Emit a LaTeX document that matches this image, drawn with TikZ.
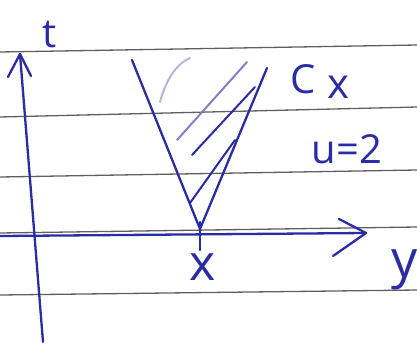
\documentclass[tikz,border=0pt]{standalone}
\usepackage{fontspec}
\setmainfont{Open Sans}
\definecolor{ink}{RGB}{42,44,165}
\definecolor{ruleline}{RGB}{95,95,95}
\begin{document}
\begin{tikzpicture}[x=1pt,y=-1pt,
  inkline/.style={draw=ink,line width=2.3pt,line cap=round,line join=round},
  hatch/.style={draw=ink,line width=2pt,line cap=round},
  paperline/.style={draw=ruleline,line width=1.3pt},
  lbl/.style={text=ink,inner sep=0pt,font=\fontsize{40}{40}\selectfont}]
\useasboundingbox (0,0) rectangle (417,345);
% ruled paper lines
\draw[paperline] (0,52) -- (417,45);
\draw[paperline] (0,117) -- (417,107);
\draw[paperline] (0,177) -- (417,170);
\draw[paperline] (0,233) -- (417,227);
\draw[paperline] (0,295) -- (417,290);
% axes
\coordinate (tbot) at (43,342);
\coordinate (ttop) at (20,54);
\coordinate (yleft) at (0,236);
\coordinate (ytip) at (366,233);
\draw[inkline] (tbot) -- (ttop);
\draw[inkline] ([shift={(-12,23)}]ttop) -- (ttop) -- ([shift={(11,22)}]ttop);
\draw[inkline] (yleft) -- (ytip);
\draw[inkline] ([shift={(-27,-14)}]ytip) -- (ytip) -- ([shift={(-33,23)}]ytip);
% tick at x
\coordinate (xtop) at (200,222);
\coordinate (xbot) at (200,250);
\draw[inkline] (xtop) -- (xbot);
% cone
\coordinate (apex) at (200,229);
\coordinate (cl) at (132,60);
\coordinate (cr) at (267,68);
\draw[inkline] (cl) -- (apex) -- (cr);
% hatching
\draw[hatch,draw=ink!35] (160,102) .. controls (166,80) and (176,64) .. (190,58);
\draw[hatch,draw=ink!60] (177,140) -- (247,62);
\draw[hatch] (192,155) -- (255,87);
\draw[hatch] (190,203) -- (235,140);
% labels
\node[lbl] (tlab) at (50,35) {t};
\node[lbl,font=\fontsize{50}{50}\selectfont] (xlab) at (203,267) {x};
\node[lbl,font=\fontsize{52}{52}\selectfont] (ylab) at (405,270) {y};
\node[lbl] (clab) at (303,79) {C};
\node[lbl,font=\fontsize{42}{42}\selectfont] (csub) at (338,87) {x};
\node[lbl] (ulab) at (347,149) {u=2};
\end{tikzpicture}
\end{document}
